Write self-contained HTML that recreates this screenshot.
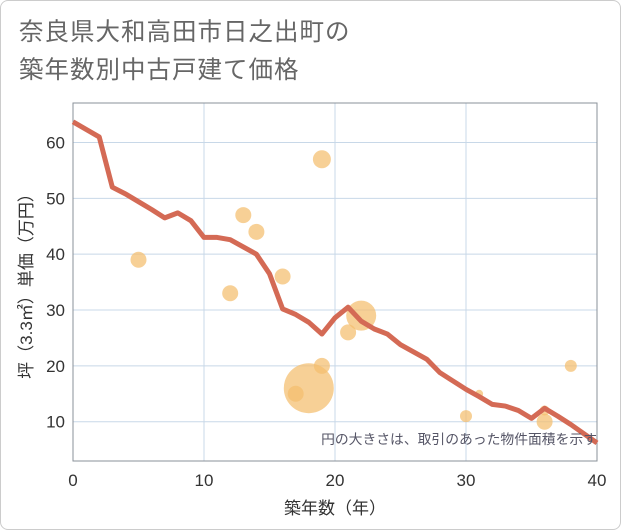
<!DOCTYPE html>
<html><head><meta charset="utf-8"><style>
body{margin:0;background:#fff}
#wrap{position:relative;width:619px;height:528px;border:1px solid #ccc;border-radius:8px;overflow:hidden;font-family:"Liberation Sans","Noto Sans CJK JP",sans-serif}
.title{position:absolute;left:18px;font-size:24.5px;color:#666;letter-spacing:1px}
</style></head><body>
<div id="wrap">
<div class="title" style="top:12px">奈良県大和高田市日之出町の</div>
<div class="title" style="top:50px">築年数別中古戸建て価格</div>
<svg id="chart" width="621" height="530" style="position:absolute;left:-1px;top:-1px"></svg>
</div>
<script>
const lineYears=[0,2,3,4,5,6,7,8,9,10,11,12,14,15,16,17,18,19,20,21,22,23,24,25,26,27,28,29,30,31,32,33,34,35,36,37,38,40];
const lineValues=[63.7,61,52,50.8,49.4,48,46.5,47.4,46,43,43,42.6,40,36.5,30.2,29.2,27.8,25.7,28.6,30.5,28,26.6,25.7,23.8,22.5,21.2,18.8,17.3,15.8,14.5,13.1,12.8,12,10.6,12.4,11,9.5,6.2];
const bubbleYears=[5,13,14,12,16,19,17,18,19,22,21,30,31,36,36,38];
const bubbleValues=[39,47,44,33,36,57,15,16,20,29,26,11,15,10,12,20];
const bubbleSizes=[8,8,8,8,8,9,8,25,8,15,8,6,4,8,5,6];
const xTicks=[0,10,20,30,40];
const yTicks=[10,20,30,40,50,60];
const svg=document.getElementById('chart');
const NS='http://www.w3.org/2000/svg';
const L=73,R=597,T=103,B=461;
const X=v=>L+(v-0)/40*(R-L);
const Y=v=>142.5+(60-v)*5.584;
function el(t,a){const e=document.createElementNS(NS,t);for(const k in a)e.setAttribute(k,a[k]);svg.appendChild(e);return e;}
xTicks.forEach(t=>{
 const g=el('line',{x1:X(t),x2:X(t),y1:T,y2:B,stroke:'#c8d8e8','stroke-width':1});
 
 
 const s=el('text',{x:X(t),y:B+25,'text-anchor':'middle','font-size':17,fill:'#333'});
 s.textContent=t;
 
 
});
yTicks.forEach(t=>{
 const g=el('line',{x1:L,x2:R,y1:Y(t),y2:Y(t),stroke:'#c8d8e8','stroke-width':1});
 
 
 const s=el('text',{x:L-8,y:Y(t)+6,'text-anchor':'end','font-size':17,fill:'#333'});
 s.textContent=t;
 
 
});
const fr=el('rect',{x:L,y:T,width:R-L,height:B-T,fill:'none',stroke:'#8a9098','stroke-width':1});


bubbleYears.forEach((yr,i)=>{
 const c=el('circle',{cx:X(yr),cy:Y(bubbleValues[i]),r:bubbleSizes[i],fill:'rgba(244,190,110,0.72)'});
 
 
});
const p=el('polyline',{points:lineYears.map((y,i)=>X(y)+','+Y(lineValues[i])).join(' '),fill:'none',stroke:'#d46a55','stroke-width':5,'stroke-linejoin':'round'});


const n=el('text',{x:597,y:444,'text-anchor':'end','font-size':13.8,fill:'#556'});
n.textContent='円の大きさは、取引のあった物件面積を示す';


const xt=el('text',{x:(L+R)/2,y:514,'text-anchor':'middle','font-size':17,fill:'#333'});
xt.textContent='築年数（年）';


const yt=el('text',{x:0,y:0,'text-anchor':'middle','font-size':17,fill:'#333',transform:'translate(32,'+((T+B)/2)+') rotate(-90)'});
yt.textContent='坪（3.3㎡）単価（万円）';


</script>
</body></html>
